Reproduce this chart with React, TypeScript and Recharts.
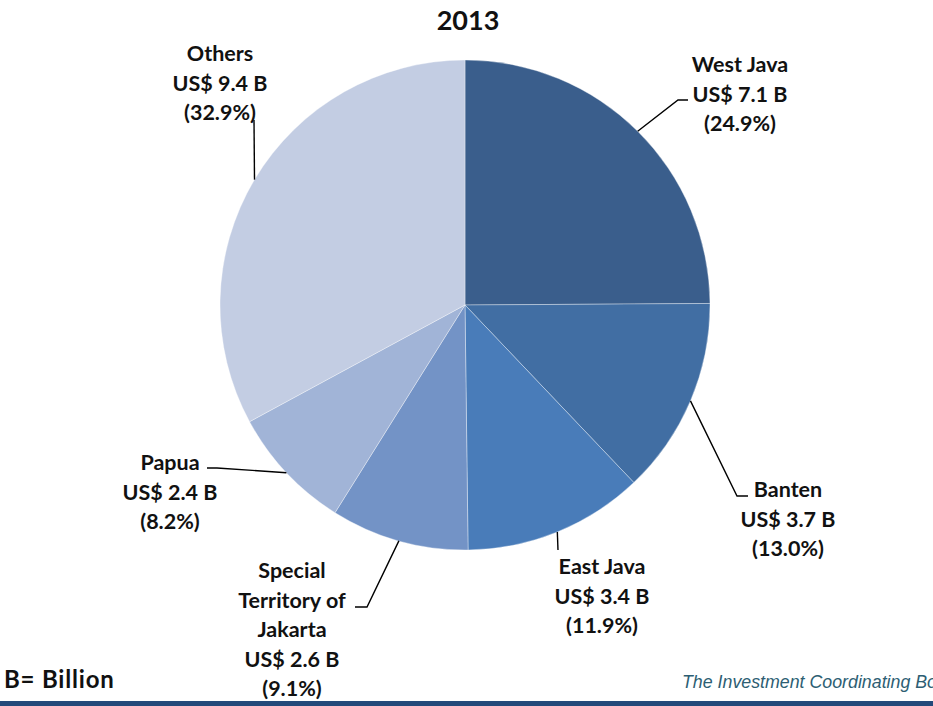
import React from 'react';
import { PieChart, Pie, Cell } from 'recharts';

// FDI by province, 2013 (US$ billion and share of total)
const regions = ['West Java', 'Banten', 'East Java', 'Special Territory of Jakarta', 'Papua', 'Others'];
const valuesUsd = [7.1, 3.7, 3.4, 2.6, 2.4, 9.4];
const shares = [24.9, 13.0, 11.9, 9.1, 8.2, 32.9];
const labelNames = [['West Java'], ['Banten'], ['East Java'], ['Special', 'Territory of', 'Jakarta'], ['Papua'], ['Others']];

const COLORS = ['#3a5e8c', '#416ea3', '#497cb9', '#7393c6', '#a1b4d7', '#c3cde3'];

// label placement relative to pie centre: text centre + first baseline, leader elbow/end
const LABEL_LAYOUT = [
  { tx: 275, ty: -233, pts: [[213, -205], [223, -205]] },
  { tx: 323, ty: 192, pts: [[272, 191], [283, 191]] },
  { tx: 137, ty: 269, pts: [[93, 245]] },
  { tx: -173, ty: 273, pts: [[-98, 302], [-110, 302]] },
  { tx: -295, ty: 165, pts: [[-248, 163], [-258, 163]] },
  { tx: -245, ty: -244, pts: [[-211, -185]] },
];

const data = regions.map((name, i) => ({ name, value: shares[i], usd: valuesUsd[i] }));

const RAD = Math.PI / 180;
const LINE_H = 29.5;
const FONT = 'Lato, sans-serif';

const renderLabel = (props: any) => {
  const { cx, cy, midAngle, outerRadius, index } = props;
  const sx = cx + outerRadius * Math.cos(-midAngle * RAD);
  const sy = cy + outerRadius * Math.sin(-midAngle * RAD);
  const lay = LABEL_LAYOUT[index];
  const pts = [[sx, sy], ...lay.pts.map(([x, y]) => [cx + x, cy + y])];
  const lines = [...labelNames[index], `US$ ${valuesUsd[index].toFixed(1)} B`, `(${shares[index].toFixed(1)}%)`];
  return (
    <g key={`lbl-${index}`}>
      <polyline points={pts.map((p) => p.join(',')).join(' ')} fill="none" stroke="#000" strokeWidth={1.4} />
      <text x={cx + lay.tx} y={cy + lay.ty} textAnchor="middle" fontFamily={FONT} fontWeight={700} fontSize={21.5} fill="#111">
        {lines.map((l, k) => (
          <tspan key={k} x={cx + lay.tx} dy={k === 0 ? 0 : LINE_H}>{l}</tspan>
        ))}
      </text>
    </g>
  );
};

const App: React.FC = () => {
  return (
    <div style={{ position: 'relative', width: 933, height: 706, background: '#fff', overflow: 'hidden' }}>
      <style>{'body{margin:0}'}</style>
      <div style={{ position: 'absolute', left: 0, top: 0 }}>
        <PieChart width={933} height={706} margin={{ top: 0, right: 0, bottom: 0, left: 0 }}>
          <Pie
            data={data}
            dataKey="value"
            nameKey="name"
            cx={465}
            cy={305}
            outerRadius={245}
            startAngle={90}
            endAngle={-270}
            stroke="#ffffff"
            strokeOpacity={0.35}
            strokeWidth={1}
            labelLine={false}
            label={renderLabel}
            isAnimationActive={false}
          >
            {data.map((entry, index) => (
              <Cell key={`cell-${index}`} fill={COLORS[index]} />
            ))}
          </Pie>
        </PieChart>
      </div>
      <svg width={933} height={706} style={{ position: 'absolute', left: 0, top: 0, pointerEvents: 'none' }}>
        <text x={468} y={30} textAnchor="middle" fontFamily={FONT} fontWeight={700} fontSize={27} fill="#111">2013</text>
        <text x={4} y={688} fontFamily={FONT} fontWeight={700} fontSize={24} letterSpacing={0.8} fill="#111">B= Billion</text>
        {/* the source slide crops this caption at its right edge */}
        <text x={682} y={688} fontFamily={'"Liberation Sans", Arial, sans-serif'} fontStyle="italic" fontSize={17.8} fill="#2d5e73">
          The Investment Coordinating Board
        </text>
        <rect x={0} y={701} width={933} height={5} fill="#23497a" />
      </svg>
    </div>
  );
};

export default App;
